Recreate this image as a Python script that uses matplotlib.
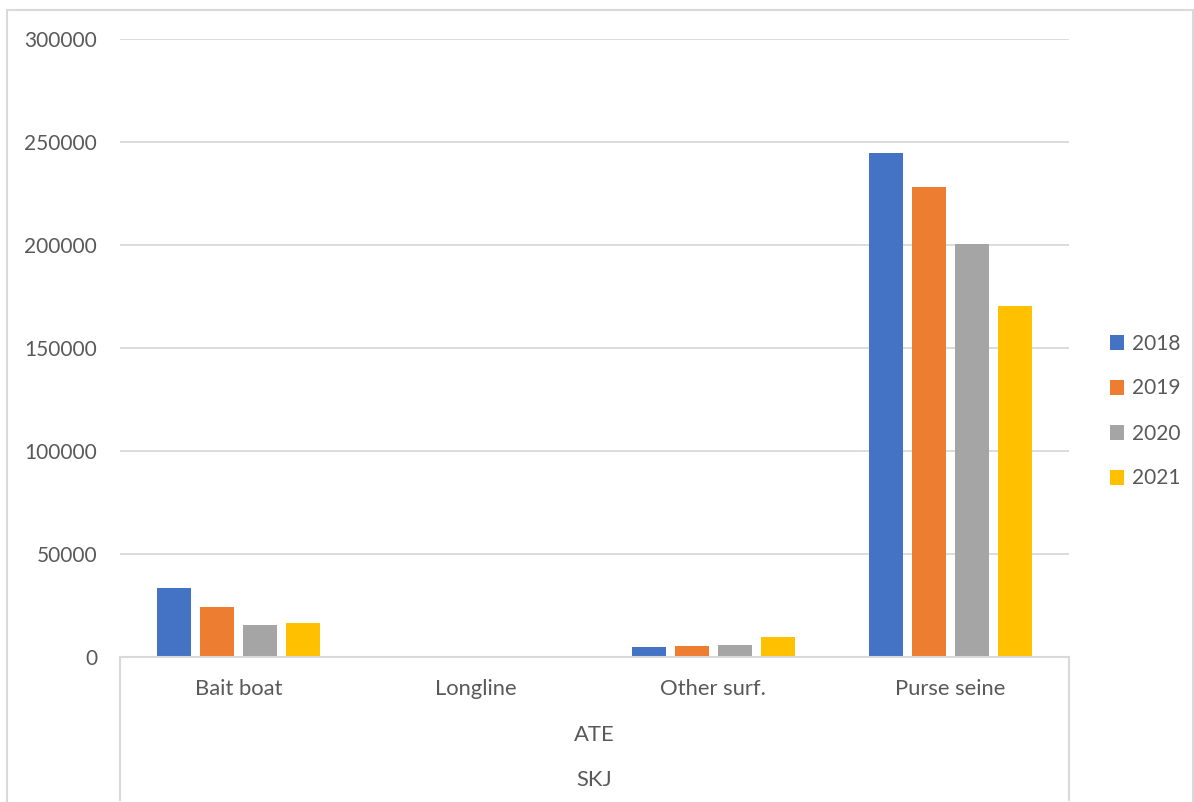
import matplotlib
matplotlib.use("Agg")
import matplotlib.pyplot as plt
import numpy as np
from matplotlib.lines import Line2D
from matplotlib.patches import Rectangle, Patch

categories = ["Bait boat", "Longline", "Other surf.", "Purse seine"]
level2 = "ATE"
level3 = "SKJ"
years = ["2018", "2019", "2020", "2021"]
v2018 = [33300, 50, 4850, 244500]
v2019 = [24300, 300, 5300, 228200]
v2020 = [15700, 250, 5700, 200300]
v2021 = [16500, 30, 9700, 170400]
series = [v2018, v2019, v2020, v2021]
colors = ["#4472C4", "#ED7D31", "#A5A5A5", "#FFC000"]
yticks = [0, 50000, 100000, 150000, 200000, 250000, 300000]

plt.rcParams['font.family'] = ['Lato', 'DejaVu Sans']
txt = "#595959"
FS = 15
FSC = 15.8
W, H = 1194, 802
fig = plt.figure(figsize=(W/100, H/100), dpi=100)

def fx(px): return px / W
def fy(py): return 1 - py / H

L, R, T, B = 120, 1069, 39, 657
ax = fig.add_axes([fx(L), fy(B), fx(R) - fx(L), fy(T) - fy(B)])
ax.set_xlim(-0.5, len(categories) - 0.5)
ax.set_ylim(0, 300000)

x = np.arange(len(categories))
step = 43 / 237.25
width = 34 / 237.25
offsets = (np.arange(4) - 1.5) * step
for s, c, off, lab in zip(series, colors, offsets, years):
    ax.bar(x + off, s, width=width, color=c, label=lab, zorder=3)

ax.set_yticks(yticks)
ax.set_yticklabels([str(v) for v in yticks], fontsize=FS, color=txt)
ax.tick_params(axis='y', length=0, pad=16.5)
ax.set_xticks([])
ax.grid(axis='y', color="#d9d9d9", linewidth=1.3, zorder=0)
for sp in ax.spines.values():
    sp.set_visible(False)

lc = "#d9d9d9"
# category axis box
fig.add_artist(Line2D([fx(L), fx(R)], [fy(B), fy(B)], color=lc, lw=1.5, zorder=4))
fig.add_artist(Line2D([fx(L), fx(L)], [fy(B), fy(800)], color=lc, lw=1.5))
fig.add_artist(Line2D([fx(R), fx(R)], [fy(B), fy(800)], color=lc, lw=1.5))
# outer border
fig.add_artist(Rectangle((fx(7), fy(812)), fx(1193) - fx(7), fy(10) - fy(812),
                         fill=False, edgecolor=lc, lw=1.5))

for i, c in enumerate(categories):
    fig.text(fx(L + (R - L) * (i + 0.5) / len(categories)), fy(689), c,
             ha='center', va='center', fontsize=FSC, color=txt)
fig.text(fx((L + R) / 2), fy(735), level2, ha='center', va='center', fontsize=FSC, color=txt)
fig.text(fx((L + R) / 2), fy(780), level3, ha='center', va='center', fontsize=FSC, color=txt)

handles = [Patch(facecolor=c, edgecolor='none') for c in colors]
fig.legend(handles, years, loc='center left', bbox_to_anchor=(fx(1091), fy(411)),
           frameon=False, fontsize=FS, labelcolor=txt, handlelength=0.7,
           handleheight=0.7, handletextpad=0.35, labelspacing=1.2)

fig.savefig("out.png", dpi=100)
